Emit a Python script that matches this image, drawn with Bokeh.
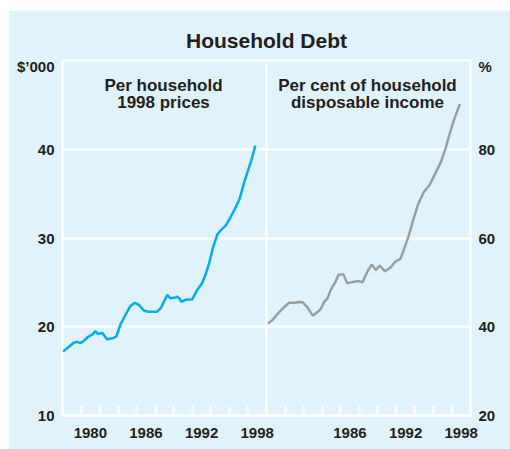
from bokeh.plotting import figure
from bokeh.models import Range1d, LinearAxis, FixedTicker, Span, Label, Title
from bokeh.embed import file_html
from bokeh.resources import INLINE

# ---- data ----
debt_years = [1977.05, 1977.7, 1978.2, 1978.6, 1978.9, 1979.3, 1979.8, 1980.2, 1980.55, 1980.8,
              1981.3, 1981.8, 1982.4, 1982.8, 1983.25, 1983.8, 1984.3, 1984.8, 1985.2, 1985.8,
              1986.3, 1987.2, 1987.6, 1988.3, 1988.65, 1989.2, 1989.4, 1989.65, 1989.8, 1990.3,
              1991.0, 1991.5, 1992.05, 1992.4, 1992.8, 1993.2, 1993.7, 1994.0, 1994.6, 1995.1,
              1995.6, 1996.1, 1996.55, 1997.0, 1997.35, 1997.8]
debt_per_household = [17.2, 17.75, 18.2, 18.3, 18.15, 18.4, 18.9, 19.1, 19.5, 19.2,
                      19.3, 18.6, 18.7, 18.9, 20.25, 21.35, 22.3, 22.7, 22.5, 21.8,
                      21.7, 21.7, 22.1, 23.6, 23.2, 23.3, 23.4, 23.15, 22.8, 23.05,
                      23.1, 24.1, 24.9, 25.8, 27.1, 28.8, 30.4, 30.8, 31.4, 32.3,
                      33.3, 34.4, 36.1, 37.6, 38.7, 40.4]

ratio_years = [1977.1, 1977.6, 1978.2, 1978.7, 1979.4, 1980.0, 1980.5, 1980.9, 1981.4, 1982.0,
               1982.5, 1982.85, 1983.2, 1983.6, 1983.9, 1984.4, 1984.8, 1985.3, 1985.7, 1986.1,
               1986.6, 1987.0, 1987.35, 1987.9, 1988.35, 1988.8, 1989.2, 1989.8, 1990.4, 1990.9,
               1991.45, 1991.9, 1992.35, 1992.8, 1993.3, 1993.95, 1994.6, 1995.2, 1995.8, 1996.3,
               1996.7, 1997.2, 1997.85]
debt_to_income = [40.7, 41.4, 42.9, 44.0, 45.4, 45.4, 45.6, 45.5, 44.4, 42.5,
                  43.3, 44.0, 45.5, 46.5, 48.2, 50.0, 51.8, 51.8, 49.8, 50.0,
                  50.2, 50.3, 50.0, 52.5, 54.0, 52.8, 53.8, 52.5, 53.4, 54.7,
                  55.3, 57.9, 60.6, 63.9, 67.3, 70.3, 72.0, 74.5, 77.1, 80.1,
                  83.1, 86.5, 90.2]

left_ticks = [10, 20, 30, 40]
right_ticks = [20, 40, 60, 80]
left_unit = "$\u2019000"
right_unit = "%"
left_year_labels = [1980, 1986, 1992, 1998]
right_year_labels = [1986, 1992, 1998]
panel_span = 22  # years shown in each panel (1977-1999)
start_year = 1977

BG = "#E0F2FB"
BLUE = "#00AEEF"
GREY = "#99A0A4"
TXT = "#231F20"
FONT = "Liberation Sans"

p = figure(width=502, height=439, output_backend="svg", toolbar_location=None,
           x_range=Range1d(start_year, start_year + 2 * panel_span), y_range=Range1d(10, 50),
           min_border_left=54, min_border_right=40, min_border_top=50, min_border_bottom=34,
           margin=(10, 0, 0, 8))
p.extra_x_ranges = {"right": Range1d(start_year - panel_span, start_year + panel_span)}
p.extra_y_ranges = {"right": Range1d(20, 100)}

p.background_fill_color = BG
p.border_fill_color = BG
p.outline_line_color = "white"
p.outline_line_width = 2

p.add_layout(Title(text="Household Debt", align="center", text_font=FONT,
                   text_font_style="bold", text_font_size="21px", text_color=TXT,
                   standoff=17), "above")

# grid
p.xgrid.visible = False
p.ygrid.ticker = FixedTicker(ticks=left_ticks)
p.ygrid.grid_line_color = "white"
p.ygrid.grid_line_width = 2

# bottom axis
xt = [y for y in left_year_labels] + [y + panel_span for y in right_year_labels]
overrides = {y + panel_span: str(y) for y in right_year_labels}
minor = list(range(start_year, start_year + 2 * panel_span + 1, 2))
xa = p.xaxis[0]
xa.ticker = FixedTicker(ticks=xt, minor_ticks=minor)
xa.major_label_overrides = overrides
xa.axis_line_color = "white"
xa.axis_line_width = 2
xa.major_tick_line_color = None
xa.minor_tick_line_color = "white"
xa.minor_tick_line_width = 2
xa.minor_tick_in = 10
xa.minor_tick_out = 0
xa.major_tick_out = 0
xa.major_tick_in = 0
xa.major_label_standoff = 12

# left axis (unit label sits as a tick label near the top)
ya = p.yaxis[0]
ya.ticker = FixedTicker(ticks=left_ticks + [49.3])
ya.major_label_overrides = {49.3: left_unit}
ya.axis_line_color = None
ya.major_tick_line_color = None
ya.minor_tick_line_color = None
ya.major_tick_out = 0
ya.major_label_standoff = 8

# right axis
ra = LinearAxis(y_range_name="right", ticker=FixedTicker(ticks=right_ticks + [98.6]))
ra.major_label_overrides = {98.6: right_unit}
ra.axis_line_color = None
ra.major_tick_line_color = None
ra.minor_tick_line_color = None
ra.major_tick_out = 0
ra.major_label_standoff = 8
p.add_layout(ra, "right")

for ax in (xa, ya, ra):
    ax.major_label_text_font = FONT
    ax.major_label_text_font_style = "bold"
    ax.major_label_text_font_size = "15px"
    ax.major_label_text_color = TXT

# panel divider
p.add_layout(Span(location=start_year + panel_span, dimension="height",
                  line_color="white", line_width=2))

# lines
p.line(debt_years, debt_per_household, line_color=BLUE, line_width=2.5)
p.line(ratio_years, debt_to_income, line_color=GREY, line_width=2.5,
       x_range_name="right", y_range_name="right")

# panel headings (frame-relative screen units)
def lab(txt, x, y, size, align="center"):
    p.add_layout(Label(x=x, y=y, x_units="screen", y_units="screen", text=txt,
                       text_font=FONT, text_font_style="bold", text_font_size=size,
                       text_color=TXT, text_align=align, text_baseline="alphabetic"))

lab("Per household", 101, 330, "17px")
lab("1998 prices", 101, 313, "17px")
lab("Per cent of household", 305, 330, "17px")
lab("disposable income", 305, 313, "17px")

open("out.html", "w").write(file_html(p, INLINE))
